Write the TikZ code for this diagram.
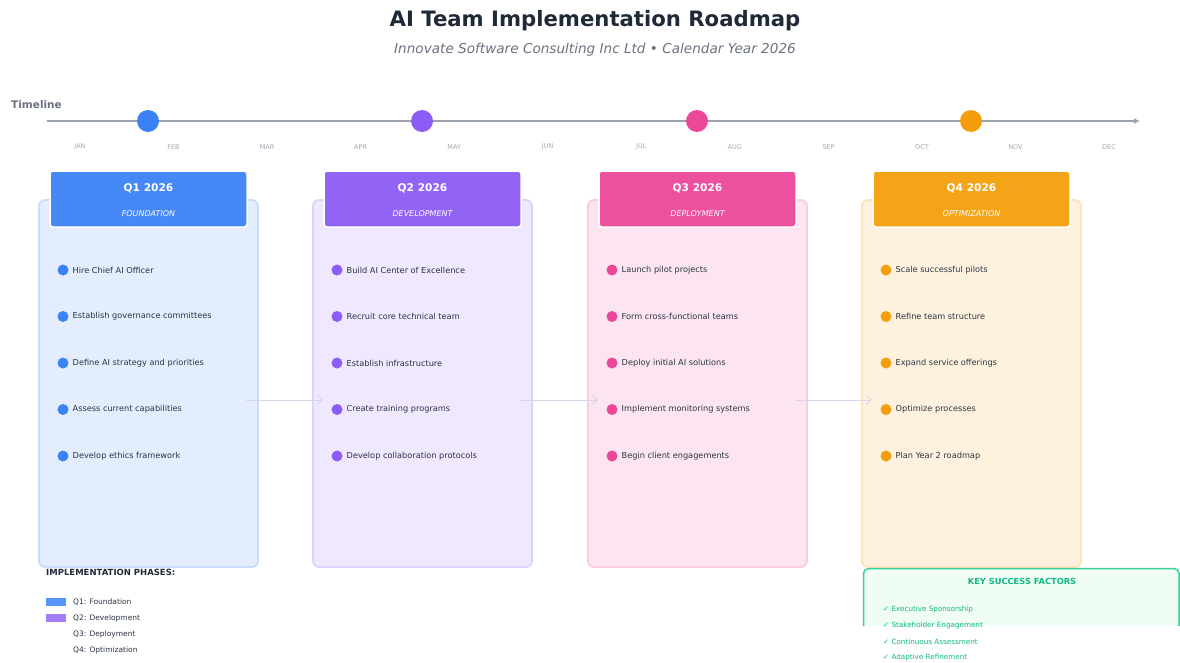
\documentclass[tikz,border=0pt]{standalone}
\usepackage{fontspec}
\setmainfont{DejaVu Sans}
\usetikzlibrary{arrows.meta}

\definecolor{ink}{HTML}{1F2937}
\definecolor{bodyink}{HTML}{2B3443}
\definecolor{subgrey}{HTML}{6B7280}
\definecolor{axisgrey}{HTML}{9CA3AF}
\definecolor{monthgrey}{HTML}{A3A8B2}
\definecolor{qone}{HTML}{3B82F6}
\definecolor{qtwo}{HTML}{8B5CF6}
\definecolor{qthree}{HTML}{EC4899}
\definecolor{qfour}{HTML}{F59E0B}
\definecolor{flowline}{HTML}{D9D6EA}
\definecolor{kfborder}{HTML}{34D399}
\definecolor{kffill}{HTML}{F0FDF4}
\definecolor{kftext}{HTML}{10B981}

\tikzset{
  card/.style={rectangle, rounded corners=6pt, line width=1.8pt,
    minimum width=219pt, minimum height=367pt, inner sep=0pt},
  head/.style={rectangle, rounded corners=3pt, draw=white, line width=1.5pt,
    minimum width=197pt, minimum height=56pt, inner sep=0pt},
  headtitle/.style={text=white, font=\fontsize{10.6}{12}\selectfont\bfseries, inner sep=0pt},
  headsub/.style={text=white, font=\fontsize{8}{10}\selectfont\itshape, inner sep=0pt},
  dot/.style={circle, minimum size=11pt, inner sep=0pt},
  itemtext/.style={text=bodyink, font=\fontsize{8.2}{10}\selectfont, inner sep=0pt, anchor=west},
  milestone/.style={circle, minimum size=22pt, inner sep=0pt},
  month/.style={text=monthgrey, font=\fontsize{6.5}{8}\selectfont, inner sep=0pt},
  flow/.style={draw=flowline, line width=1pt, -{Straight Barb[length=5pt,width=9pt]}},
  legendhead/.style={text=ink, font=\fontsize{8.5}{10}\selectfont\bfseries, inner sep=0pt, anchor=west},
  legendtext/.style={text=bodyink, font=\fontsize{7.5}{9}\selectfont, inner sep=0pt, anchor=west},
  swatch/.style={rectangle, minimum width=20pt, minimum height=8pt, inner sep=0pt},
  kftitle/.style={text=kftext, font=\fontsize{8.3}{10}\selectfont\bfseries, inner sep=0pt},
  kfitem/.style={text=kftext, font=\fontsize{7.2}{9}\selectfont, inner sep=0pt, anchor=west},
}

% #1 suffix, #2 centre x, #3 colour, #4 quarter, #5 phase name, #6 activities
\newcommand\phasecard[6]{%
  \node[card, draw=#3!28, fill=#3!14] (card#1) at (#2,383.5) {};
  \node[head, fill=#3!95!white] (head#1) at (#2,199) {};
  \node[headtitle] (quarter#1) at (#2,188) {#4};
  \node[headsub] (phase#1) at (#2,214) {#5};
  \foreach \t [count=\k] in {#6} {
    \pgfmathsetmacro\yy{270+(\k-1)*46.5}
    \node[dot, fill=#3] (dot#1-\k) at ({#2-85.5},\yy) {};
    \node[itemtext] (task#1-\k) at ({#2-76},\yy) {\t};
  }%
}

\begin{document}
\begin{tikzpicture}[x=1pt,y=-1pt]
\useasboundingbox[fill=white] (0,0) rectangle (1180,662);

% heading
\node[text=ink, font=\fontsize{21.2}{25}\selectfont\bfseries, inner sep=0pt] (title) at (595,20.5) {AI Team Implementation Roadmap};
\node[text=subgrey, font=\fontsize{13.6}{16}\selectfont\itshape, inner sep=0pt] (subtitle) at (595,49.5) {Innovate Software Consulting Inc Ltd • Calendar Year 2026};

% timeline axis
\node[text=subgrey, font=\fontsize{10.5}{12}\selectfont\bfseries, inner sep=0pt, anchor=west] (tllabel) at (11,105) {Timeline};
\coordinate (tlstart) at (47,121);
\coordinate (tlend) at (1140,121);
\draw[axisgrey, line width=2.4pt, -{Latex[length=6pt,width=6pt]}] (tlstart) -- (tlend);
\node[milestone, fill=qone] (ms1) at (148,121) {};
\node[milestone, fill=qtwo] (ms2) at (422,121) {};
\node[milestone, fill=qthree] (ms3) at (697,121) {};
\node[milestone, fill=qfour] (ms4) at (971,121) {};
\foreach \m [count=\k] in {JAN,FEB,MAR,APR,MAY,JUN,JUL,AUG,SEP,OCT,NOV,DEC}
  \node[month] (month\k) at ({80+(\k-1)*93.55},147) {\m};

% quarterly phase cards
\phasecard{1}{148.5}{qone}{Q1 2026}{FOUNDATION}{Hire Chief AI Officer,Establish governance committees,Define AI strategy and priorities,Assess current capabilities,Develop ethics framework}
\phasecard{2}{422.5}{qtwo}{Q2 2026}{DEVELOPMENT}{Build AI Center of Excellence,Recruit core technical team,Establish infrastructure,Create training programs,Develop collaboration protocols}
\phasecard{3}{697.5}{qthree}{Q3 2026}{DEPLOYMENT}{Launch pilot projects,Form cross-functional teams,Deploy initial AI solutions,Implement monitoring systems,Begin client engagements}
\phasecard{4}{971.5}{qfour}{Q4 2026}{OPTIMIZATION}{Scale successful pilots,Refine team structure,Expand service offerings,Optimize processes,Plan Year 2 roadmap}

% hand-over arrows between phases
\coordinate (f1s) at (246,400); \coordinate (f1e) at (323,400);
\coordinate (f2s) at (520,400); \coordinate (f2e) at (598,400);
\coordinate (f3s) at (795,400); \coordinate (f3e) at (872,400);
\draw[flow] (f1s) -- (f1e);
\draw[flow] (f2s) -- (f2e);
\draw[flow] (f3s) -- (f3e);

% legend
\node[legendhead] (leghead) at (46,572) {IMPLEMENTATION PHASES:};
\node[swatch, fill=qone!85] (sw1) at (56,602) {};
\node[swatch, fill=qtwo!80] (sw2) at (56,618) {};
\node[legendtext] (leg1) at (73,602) {Q1: Foundation};
\node[legendtext] (leg2) at (73,618) {Q2: Development};
\node[legendtext] (leg3) at (73,634) {Q3: Deployment};
\node[legendtext] (leg4) at (73,650) {Q4: Optimization};

% key success factors panel
\draw[draw=kfborder, fill=kffill, line width=1.5pt, rounded corners=5pt]
  (863.5,626) -- (863.5,568.5) -- (1179,568.5) -- (1179,626);
\node[kftitle] (kfhead) at (1022,581) {KEY SUCCESS FACTORS};
\node[kfitem] (kf1) at (883,610) {✓ Executive Sponsorship};
\node[kfitem] (kf2) at (883,626) {✓ Stakeholder Engagement};
\node[kfitem] (kf3) at (883,642) {✓ Continuous Assessment};
\node[kfitem] (kf4) at (883,658) {✓ Adaptive Refinement};
\end{tikzpicture}
\end{document}
